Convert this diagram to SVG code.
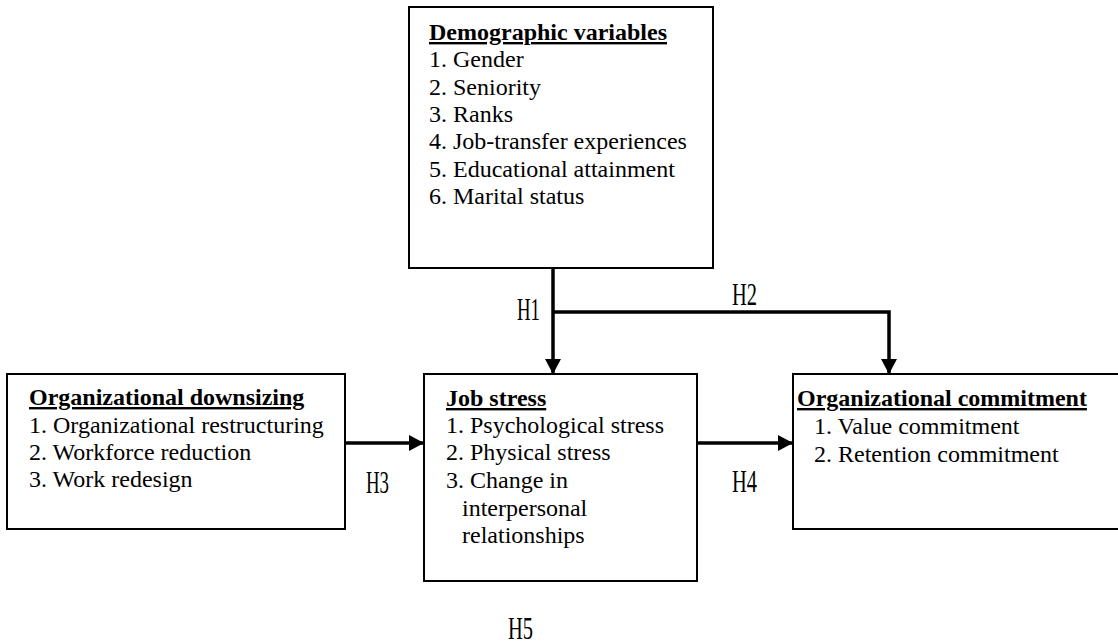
<svg xmlns="http://www.w3.org/2000/svg" width="1118" height="644" viewBox="0 0 1118 644">
<style>
.box{fill:#fff;stroke:#000;stroke-width:2}
.t{font-family:"Liberation Serif","Times New Roman",serif;font-size:24px;fill:#000}
.h{font-weight:bold;text-decoration:underline}
.lbl{font-family:"Liberation Serif","Times New Roman",serif;font-size:31px;fill:#000}
.con{fill:none;stroke:#000;stroke-width:3.5}
</style>
<defs>
<marker id="arr" markerWidth="15" markerHeight="16" refX="15" refY="8" orient="auto" markerUnits="userSpaceOnUse">
<path d="M0,0 L15,8 L0,16 Z" fill="#000"/>
</marker>
</defs>
<g id="demographic">
<rect class="box" x="409" y="7" width="304" height="261"/>
<text class="t h" x="429" y="40">Demographic variables</text>
<text class="t" x="429" y="67">1. Gender</text>
<text class="t" x="429" y="94.5">2. Seniority</text>
<text class="t" x="429" y="122">3. Ranks</text>
<text class="t" x="429" y="149">4. Job-transfer experiences</text>
<text class="t" x="429" y="176.5">5. Educational attainment</text>
<text class="t" x="429" y="204">6. Marital status</text>
</g>
<g id="downsizing">
<rect class="box" x="7" y="374" width="338" height="155"/>
<text class="t h" x="29" y="405">Organizational downsizing</text>
<text class="t" x="29" y="433">1. Organizational restructuring</text>
<text class="t" x="29" y="460">2. Workforce reduction</text>
<text class="t" x="29" y="487">3. Work redesign</text>
</g>
<g id="jobstress">
<rect class="box" x="424" y="374" width="273" height="207"/>
<text class="t h" x="446" y="406">Job stress</text>
<text class="t" x="446" y="433">1. Psychological stress</text>
<text class="t" x="446" y="460">2. Physical stress</text>
<text class="t" x="446" y="488">3. Change in</text>
<text class="t" x="462" y="516">interpersonal</text>
<text class="t" x="462" y="543">relationships</text>
</g>
<g id="commitment">
<rect class="box" x="793" y="374" width="340" height="155"/>
<text class="t h" x="797" y="406">Organizational commitment</text>
<text class="t" x="814" y="434">1. Value commitment</text>
<text class="t" x="814" y="462">2. Retention commitment</text>
</g>
<g id="connectors">
<path class="con" d="M553,268 L553,374" marker-end="url(#arr)"/>
<path class="con" d="M553,312 L889,312 L889,374" marker-end="url(#arr)"/>
<path class="con" d="M345,443 L424,443" marker-end="url(#arr)"/>
<path class="con" d="M697,443 L793,443" marker-end="url(#arr)"/>
</g>
<g id="labels">
<text class="lbl" x="517" y="320" textLength="23" lengthAdjust="spacingAndGlyphs">H1</text>
<text class="lbl" x="732" y="305" textLength="25" lengthAdjust="spacingAndGlyphs">H2</text>
<text class="lbl" x="366" y="493" textLength="23" lengthAdjust="spacingAndGlyphs">H3</text>
<text class="lbl" x="732" y="492" textLength="25" lengthAdjust="spacingAndGlyphs">H4</text>
<text class="lbl" x="508" y="639" textLength="25" lengthAdjust="spacingAndGlyphs">H5</text>
</g>
</svg>
